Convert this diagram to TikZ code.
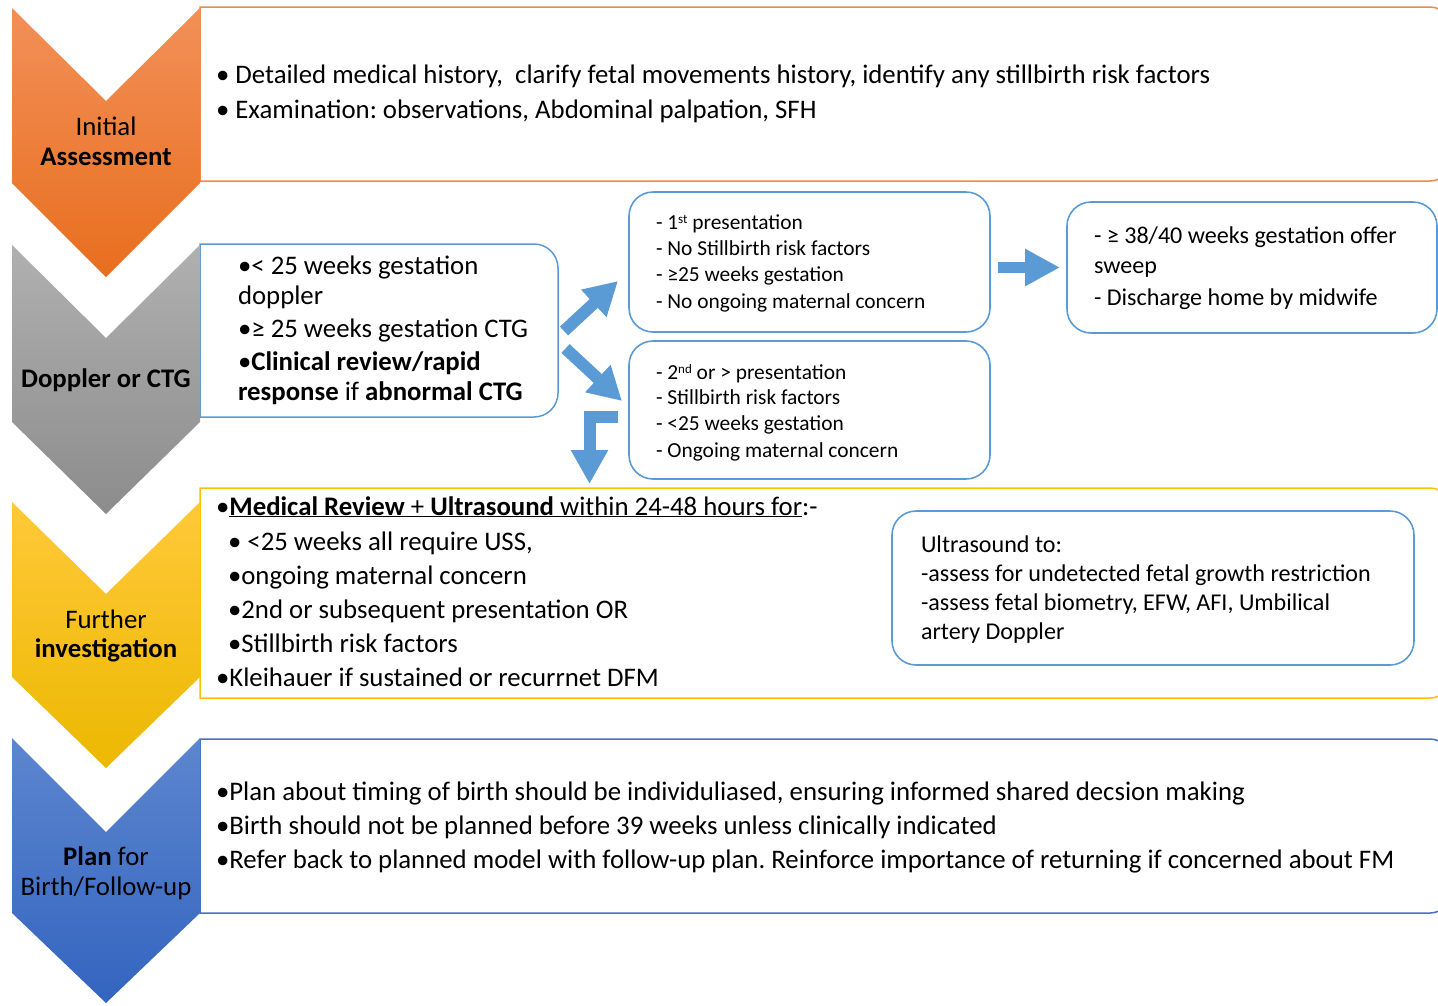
\documentclass[tikz,border=0pt]{standalone}
\usepackage{fontspec}
\setmainfont{Carlito}
\usetikzlibrary{arrows.meta}
\definecolor{orT}{HTML}{F29058}
\definecolor{orB}{HTML}{E86E1E}
\definecolor{grT}{HTML}{B0B0B0}
\definecolor{grB}{HTML}{8C8C8C}
\definecolor{yeT}{HTML}{FFC93A}
\definecolor{yeB}{HTML}{ECB800}
\definecolor{blT}{HTML}{5D86CF}
\definecolor{blB}{HTML}{3364BF}
\definecolor{orbd}{HTML}{F08A4B}
\definecolor{yebd}{HTML}{FFC000}
\definecolor{blbd}{HTML}{4472C4}
\definecolor{boxblue}{HTML}{5B9BD5}
\definecolor{arrblue}{HTML}{5B9BD5}
\newcommand\fmain{\fontsize{26.8}{32}\selectfont\frenchspacing}
\newcommand\fsmall{\fontsize{21.4}{25}\selectfont\frenchspacing}
\newcommand\fmid{\fontsize{24.1}{29}\selectfont\frenchspacing}
\newcommand\mysup[1]{\raisebox{6pt}{\fontsize{13}{13}\selectfont #1}}
\newcommand\halfround[6]{\draw[#6] (#1,#2) -- ({#3-#5},#2) arc[start angle=90,end angle=0,radius=#5 pt] -- (#3,{#4-#5}) arc[start angle=0,end angle=-90,radius=#5 pt] -- (#1,#4) -- cycle;}
\begin{document}
\begin{tikzpicture}[x=1pt,y=-1pt,
  txt/.style={inner sep=0pt, outer sep=0pt, anchor=base west, font=\fmain},
  lbl/.style={inner sep=0pt, outer sep=0pt, anchor=base, font=\fmain},
  stxt/.style={txt, font=\fsmall},
  mtxt/.style={txt, font=\fmid},
  bluebox/.style={draw=boxblue, line width=1.6pt, rounded corners=24pt},
  barrow/.style={draw=arrblue, line width=12pt, -{Triangle[width=35pt,length=33pt]}}
]
\useasboundingbox (0,0) rectangle (1438,1005);
\fill[white] (0,0) rectangle (1438,1005);

% side boxes
\halfround{200}{7}{1450}{181}{20}{draw=orbd, line width=1.5pt}
\halfround{200}{244}{558}{417}{24}{draw=boxblue, line width=1.5pt}
\halfround{200}{488}{1450}{698}{20}{draw=yebd, line width=1.5pt}
\halfround{200}{739}{1450}{913}{20}{draw=blbd, line width=1.5pt}

% chevrons
\shade[top color=orT, bottom color=orB] (12,8) -- (106,101) -- (200,8) -- (200,183) -- (106,277) -- (12,183) -- cycle;
\shade[top color=grT, bottom color=grB] (12,245) -- (106,338) -- (200,245) -- (200,422) -- (106,514) -- (12,422) -- cycle;
\shade[top color=yeT, bottom color=yeB] (12,502) -- (106,594) -- (200,502) -- (200,677) -- (106,768) -- (12,677) -- cycle;
\shade[top color=blT, bottom color=blB] (12,738) -- (106,832) -- (200,738) -- (200,913) -- (106,1003) -- (12,913) -- cycle;

% chevron labels
\node[lbl] (c1a) at (106,135) {Initial};
\node[lbl] (c1b) at (106,165) {\textbf{Assessment}};
\node[lbl] (c2a) at (106,387) {\textbf{Doppler or CTG}};
\node[lbl] (c3a) at (106,628) {Further};
\node[lbl] (c3b) at (106,657) {\textbf{investigation}};
\node[lbl] (c4a) at (106,865) {\textbf{Plan} for};
\node[lbl] (c4b) at (106,895) {Birth/Follow-up};

% rounded boxes
\draw[bluebox] (629,192) rectangle (990,332);
\draw[bluebox] (629,341) rectangle (990,479);
\draw[bluebox] (1067,202) rectangle (1437,333);
\draw[bluebox] (892,511) rectangle (1414,665);

% box 1 text
\node[txt] (t1a) at (216,83) {• Detailed medical history,\ \ clarify fetal movements history, identify any stillbirth risk factors};
\node[txt] (t1b) at (216,118) {• Examination: observations, Abdominal palpation, SFH};

% box 2 text
\node[txt] (t2a) at (238,274) {•< 25 weeks gestation};
\node[txt] (t2b) at (238,304) {doppler};
\node[txt] (t2c) at (238,337) {•≥ 25 weeks gestation CTG};
\node[txt] (t2d) at (238,370) {•\textbf{Clinical review/rapid}};
\node[txt] (t2e) at (238,400) {\textbf{response} if \textbf{abnormal CTG}};

% box A
\node[stxt] (tAa) at (656,229) {- 1\mysup{st} presentation};
\node[stxt] (tAb) at (656,255) {- No Stillbirth risk factors};
\node[stxt] (tAc) at (656,281) {- ≥25 weeks gestation};
\node[stxt] (tAd) at (656,308) {- No ongoing maternal concern};
% box B
\node[stxt] (tBa) at (656,379) {- 2\mysup{nd} or > presentation};
\node[stxt] (tBb) at (656,404) {- Stillbirth risk factors};
\node[stxt] (tBc) at (656,430) {- <25 weeks gestation};
\node[stxt] (tBd) at (656,457) {- Ongoing maternal concern};
% box C
\node[mtxt] (tCa) at (1094,243) {- ≥ 38/40 weeks gestation offer};
\node[mtxt] (tCb) at (1094,273) {sweep};
\node[mtxt] (tCc) at (1094,305) {- Discharge home by midwife};
% box D
\node[mtxt] (tDa) at (921,552) {Ultrasound to:};
\node[mtxt] (tDb) at (921,581) {-assess for undetected fetal growth restriction};
\node[mtxt] (tDc) at (921,610) {-assess fetal biometry, EFW, AFI, Umbilical};
\node[mtxt] (tDd) at (921,639) {artery Doppler};

% box 3 text
\node[txt] (t3a) at (216,515) {•\underline{\textbf{Medical Review} + \textbf{Ultrasound} within 24-48 hours for}:-};
\node[txt] (t3b) at (228,550) {• <25 weeks all require USS,};
\node[txt] (t3c) at (228,584) {•ongoing maternal concern};
\node[txt] (t3d) at (228,618) {•2nd or subsequent presentation OR};
\node[txt] (t3e) at (228,652) {•Stillbirth risk factors};
\node[txt] (t3f) at (216,686) {•Kleihauer if sustained or recurrnet DFM};

% box 4 text
\node[txt] (t4a) at (216,800) {•Plan about timing of birth should be individuliased, ensuring informed shared decsion making};
\node[txt] (t4b) at (216,834) {•Birth should not be planned before 39 weeks unless clinically indicated};
\node[txt] (t4c) at (216,868) {•Refer back to planned model with follow-up plan. Reinforce importance of returning if concerned about FM};

% arrows
\coordinate (ur0) at (564,331);
\coordinate (ur1) at (618,281);
\coordinate (dr0) at (565.5,348.5);
\coordinate (dr1) at (622,401);
\coordinate (el0) at (618,417);
\coordinate (el1) at (589.5,417);
\coordinate (el2) at (589.5,484);
\coordinate (ra0) at (998,267.5);
\coordinate (ra1) at (1060,267.5);
\draw[barrow] (ur0) -- (ur1);
\draw[barrow] (dr0) -- (dr1);
\draw[barrow, -{Triangle[width=35pt,length=34pt]}] (el0) -- (el1) -- (el2);
\draw[barrow, line width=11pt, -{Triangle[width=35pt,length=35pt]}] (ra0) -- (ra1);
\end{tikzpicture}
\end{document}
